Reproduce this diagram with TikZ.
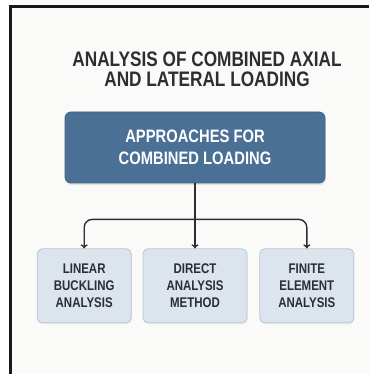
\documentclass[tikz,border=0pt]{standalone}
\usepackage{fontspec}
\usepackage{tikz}
\usetikzlibrary{shapes,arrows.meta,positioning,shadows}
\newfontfamily\condfont[FakeStretch=0.82]{Liberation Sans}
\definecolor{paper}{HTML}{FAFAF8}
\definecolor{mainblue}{HTML}{4A7096}
\definecolor{mainedge}{HTML}{3E6285}
\definecolor{paleblue}{HTML}{DCE4ED}
\definecolor{paleedge}{HTML}{B6C5D4}
\definecolor{inkgray}{HTML}{2B2E33}

\begin{document}
\begin{tikzpicture}[x=1pt,y=1pt]
	\tikzstyle{every node}=[font=\condfont\bfseries]
	\tikzstyle{topbox}=[draw=mainedge, fill=mainblue, rounded corners=6pt, line width=0.8pt,
	text=white, align=center, minimum width=260pt, minimum height=71pt,
	font=\condfont\bfseries\fontsize{18}{22}\selectfont,
	drop shadow={opacity=0.18, shadow xshift=0.8pt, shadow yshift=-2pt}]
	\tikzstyle{methodbox}=[draw=paleedge, fill=paleblue, rounded corners=5pt, line width=0.8pt,
	text=inkgray, align=center, minimum height=74pt,
	font=\condfont\bfseries\fontsize{14}{17}\selectfont,
	drop shadow={opacity=0.12, shadow xshift=0.6pt, shadow yshift=-1.5pt}]
	\tikzstyle{link}=[draw=inkgray, line width=1.4pt, -{To[length=4pt,width=7pt]}]

	% page and the frame (only left and top edge are drawn)
	\useasboundingbox (0,0) rectangle (369,374);
	\fill[white] (0,0) rectangle (369,374);
	\fill[paper] (12,0) rectangle (369,366);
	\draw[line width=3pt, black!90] (10.5,0) -- (10.5,367.5) -- (369,367.5);

	% title
	\node[text=inkgray, align=center, font=\condfont\bfseries\fontsize{21}{20}\selectfont]
	(title) at (207,305) {ANALYSIS OF COMBINED AXIAL\\AND LATERAL LOADING};

	% main box, the three methods hang below it
	\node[topbox] (approach) at (195,226.5) {APPROACHES FOR\\COMBINED LOADING};
	\node[methodbox, minimum width=104pt, below=65pt of approach] (direct) {DIRECT\\ANALYSIS\\METHOD};
	\node[methodbox, minimum width=94pt, left=11pt of direct] (linear) {LINEAR\\BUCKLING\\ANALYSIS};
	\node[methodbox, minimum width=94pt, right=12pt of direct] (fem) {FINITE\\ELEMENT\\ANALYSIS};

	% connectors
	\coordinate[below=36pt of approach.south] (split);
	\draw[link] (approach) -- (direct);
	\draw[link, rounded corners=8pt] (split) -| (linear.north);
	\draw[link, rounded corners=8pt] (split) -| (fem.north);
\end{tikzpicture}
\end{document}
